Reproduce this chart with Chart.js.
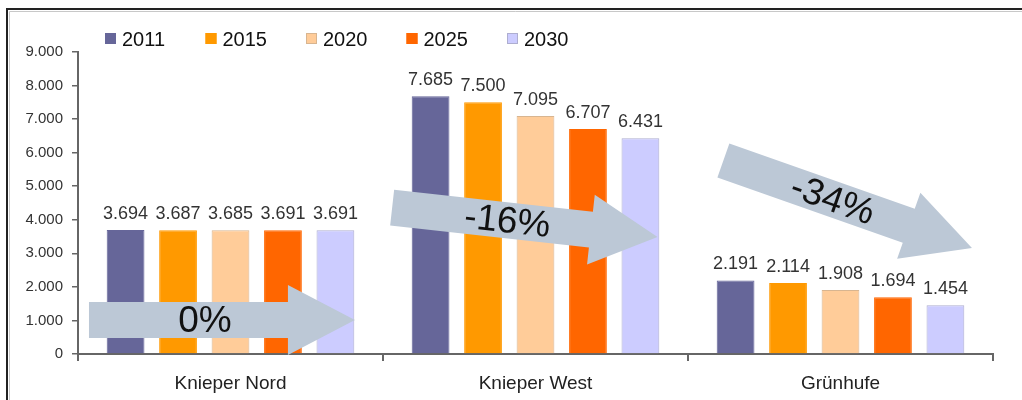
<!DOCTYPE html>
<html>
<head>
<meta charset="utf-8">
<script src="https://cdn.jsdelivr.net/npm/chart.js@4"></script>
<style>
  html, body { margin: 0; padding: 0; background: #fff; }
  #wrap { width: 1022px; height: 400px; }
</style>
</head>
<body>
<div id="wrap"><canvas id="chart" width="1022" height="400"></canvas></div>
<script>
// Data
const categories = ['Knieper Nord', 'Knieper West', 'Grünhufe'];
const years = ['2011', '2015', '2020', '2025', '2030'];
const values2011 = [3694, 7685, 2191];
const values2015 = [3687, 7500, 2114];
const values2020 = [3685, 7095, 1908];
const values2025 = [3691, 6707, 1694];
const values2030 = [3691, 6431, 1454];
const yMax = 9000;
const yStep = 1000;
const changeLabels = ['0%', '-16%', '-34%'];

const fillColors = ['#666699', '#FF9900', '#FFCC99', '#FF6600', '#CCCCFF'];
const edgeColors = ['#666699', '#FF9900', '#D8B590', '#FF6600', '#AEAED0'];

// arrows: start/tip in (category index, value) space
const arrows = [
  { from: [-0.464, 1013], to: [0.408, 1013] },
  { from: [0.53, 4365], to: [1.40, 3486] },
  { from: [1.616, 5766], to: [2.431, 3158] }
];

// thousands with a dot, German style
function fmt(v) {
  return String(v).replace(/\B(?=(\d{3})+(?!\d))/g, '.');
}

const seriesValues = [values2011, values2015, values2020, values2025, values2030];
const datasets = years.map((y, i) => ({
  label: y,
  data: seriesValues[i],
  backgroundColor: fillColors[i],
  borderColor: edgeColors[i],
  borderWidth: 1,
  categoryPercentage: 0.86,
  barPercentage: 0.72
}));

// frame round the whole chart
const framePlugin = {
  id: 'frame',
  beforeDraw(chart) {
    const ctx = chart.ctx;
    ctx.save();
    ctx.fillStyle = '#fff';
    ctx.fillRect(0, 0, chart.width, chart.height);
    ctx.strokeStyle = '#c8c8c8';
    ctx.lineWidth = 1;
    ctx.beginPath();
    ctx.moveTo(9.5, chart.height);
    ctx.lineTo(9.5, 11.5);
    ctx.lineTo(chart.width, 11.5);
    ctx.stroke();
    ctx.strokeStyle = '#222';
    ctx.lineWidth = 2;
    ctx.beginPath();
    ctx.moveTo(7, chart.height);
    ctx.lineTo(7, 9);
    ctx.lineTo(chart.width, 9);
    ctx.stroke();
    ctx.restore();
  }
};

// value labels above bars
const labelPlugin = {
  id: 'barLabels',
  afterDatasetsDraw(chart) {
    const ctx = chart.ctx;
    ctx.save();
    ctx.font = '18px "Liberation Sans", Arial, sans-serif';
    ctx.fillStyle = '#333';
    ctx.textAlign = 'center';
    ctx.textBaseline = 'alphabetic';
    chart.data.datasets.forEach((ds, i) => {
      chart.getDatasetMeta(i).data.forEach((bar, j) => {
        ctx.fillText(fmt(ds.data[j]), bar.x, bar.y - 11);
      });
    });
    ctx.restore();
  }
};

// block arrows with the percentage change
const arrowPlugin = {
  id: 'arrows',
  afterDraw(chart) {
    const ctx = chart.ctx;
    const xs = chart.scales.x, ys = chart.scales.y;
    ctx.save();
    arrows.forEach((a, k) => {
      const x0 = xs.getPixelForValue(a.from[0]), y0 = ys.getPixelForValue(a.from[1]);
      const x1 = xs.getPixelForValue(a.to[0]), y1 = ys.getPixelForValue(a.to[1]);
      const len = Math.hypot(x1 - x0, y1 - y0);
      const ang = Math.atan2(y1 - y0, x1 - x0);
      const body = 18, head = 35, headLen = 67;
      ctx.save();
      ctx.translate(x0, y0);
      ctx.rotate(ang);
      ctx.fillStyle = '#BCC8D6';
      ctx.beginPath();
      ctx.moveTo(0, -body);
      ctx.lineTo(len - headLen, -body);
      ctx.lineTo(len - headLen, -head);
      ctx.lineTo(len, 0);
      ctx.lineTo(len - headLen, head);
      ctx.lineTo(len - headLen, body);
      ctx.lineTo(0, body);
      ctx.closePath();
      ctx.fill();
      ctx.fillStyle = '#111';
      ctx.font = '37px "Liberation Sans", Arial, sans-serif';
      ctx.textAlign = 'center';
      ctx.textBaseline = 'middle';
      ctx.fillText(changeLabels[k], 116, 2);
      ctx.restore();
    });
    ctx.restore();
  }
};

// legend row at the top left
const legendPlugin = {
  id: 'topLegend',
  afterDraw(chart) {
    const ctx = chart.ctx;
    const left = chart.chartArea.left + 27;
    ctx.save();
    ctx.font = '20px "Liberation Sans", Arial, sans-serif';
    ctx.textBaseline = 'alphabetic';
    ctx.textAlign = 'left';
    chart.data.datasets.forEach((ds, i) => {
      const x = left + i * 100.5;
      ctx.fillStyle = ds.backgroundColor;
      ctx.fillRect(x, 33, 11, 11);
      ctx.strokeStyle = ds.borderColor;
      ctx.lineWidth = 1;
      ctx.strokeRect(x + 0.5, 33.5, 10, 10);
      ctx.fillStyle = '#111';
      ctx.fillText(ds.label, x + 17, 46);
    });
    ctx.restore();
  }
};

new Chart(document.getElementById('chart'), {
  type: 'bar',
  data: { labels: categories, datasets: datasets },
  plugins: [framePlugin, labelPlugin, arrowPlugin, legendPlugin],
  options: {
    responsive: false,
    animation: false,
    devicePixelRatio: 1,
    layout: { padding: { left: 0, top: 52, right: 29, bottom: 0 } },
    plugins: {
      legend: { display: false },
      tooltip: { enabled: false }
    },
    scales: {
      x: {
        grid: { offset: true, drawOnChartArea: false, drawTicks: true, tickLength: 7, color: '#666', lineWidth: 2 },
        border: { display: true, color: '#666', width: 2 },
        ticks: { color: '#222', font: { family: '"Liberation Sans", Arial, sans-serif', size: 19 }, padding: 11 },
        afterFit(s) { s.height = 46; }
      },
      y: {
        min: 0,
        max: yMax,
        ticks: {
          stepSize: yStep,
          color: '#333',
          padding: 9,
          font: { family: '"Liberation Sans", Arial, sans-serif', size: 15 },
          callback: v => fmt(v)
        },
        grid: { drawOnChartArea: false, drawTicks: true, tickLength: 6, color: '#666', lineWidth: 1.5 },
        border: { display: true, color: '#666', width: 2 },
        afterFit(s) { s.width = 78; }
      }
    }
  }
});
</script>
</body>
</html>
